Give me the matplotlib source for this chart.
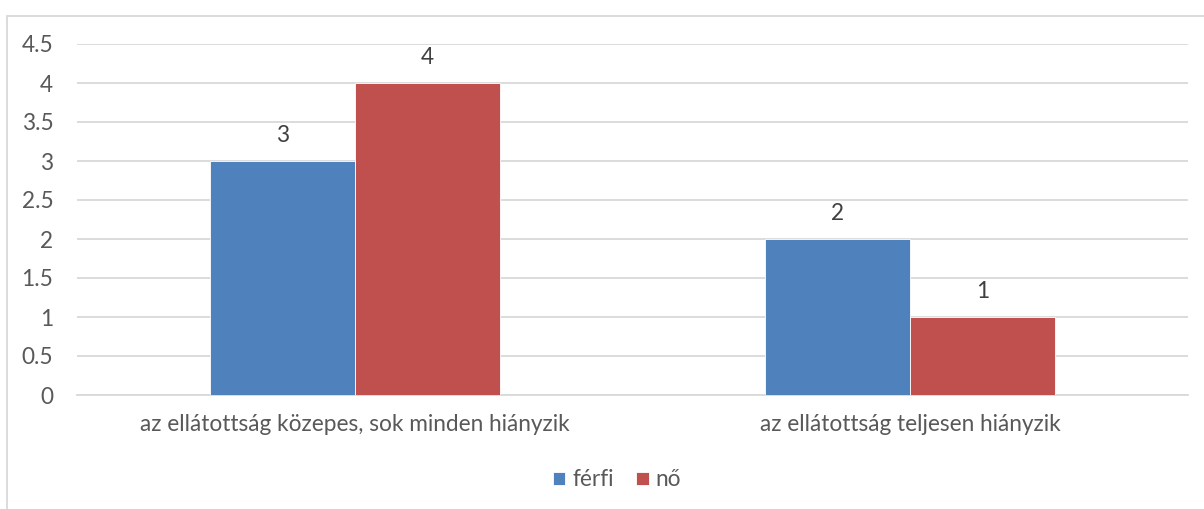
import matplotlib
matplotlib.use("Agg")
import matplotlib.pyplot as plt
from matplotlib.patches import Rectangle
import numpy as np

categories = ["az ellátottság közepes, sok minden hiányzik", "az ellátottság teljesen hiányzik"]
series_names = ["férfi", "nő"]
ferfi = [3, 2]
no = [4, 1]
colors = ["#4F81BD", "#C0504D"]
yticks = [0, 0.5, 1, 1.5, 2, 2.5, 3, 3.5, 4, 4.5]

plt.rcParams["font.family"] = ["Lato", "DejaVu Sans"]
text_color = "#595959"
grid_color = "#D9D9D9"
fs = 16.3

W, H = 1204, 509
fig = plt.figure(figsize=(W / 100, H / 100), dpi=100)

# chart frame (extends past the right and bottom edges)
fig.patches.append(Rectangle((7 / W, -0.1), 1.2, 1 - 16 / H + 0.1, transform=fig.transFigure,
                             fill=False, edgecolor=grid_color, linewidth=1.3, zorder=0))

left, right = 77 / W, 1188 / W
bottom, top = 1 - 395 / H, 1 - 44 / H
ax = fig.add_axes([left, bottom, right - left, top - bottom])

x = np.arange(len(categories))
width = 0.261
b1 = ax.bar(x - width / 2, ferfi, width, color=colors[0], label=series_names[0], zorder=3,
            edgecolor="white", linewidth=0.6)
b2 = ax.bar(x + width / 2, no, width, color=colors[1], label=series_names[1], zorder=3,
            edgecolor="white", linewidth=0.6)

for bars, vals in ((b1, ferfi), (b2, no)):
    for rect, v in zip(bars, vals):
        ax.annotate(str(v), (rect.get_x() + rect.get_width() / 2, v), xytext=(0, 11),
                    textcoords="offset points", ha="center", va="bottom",
                    fontsize=fs, color="#404040")

ax.set_xlim(-0.5, 1.5)
ax.set_ylim(0, 4.5)
ax.set_yticks(yticks)
ax.set_yticklabels([f"{t:g}" for t in yticks])
ax.set_xticks(x)
ax.set_xticklabels(categories)
ax.tick_params(axis="both", length=0, labelsize=fs, colors=text_color)
ax.tick_params(axis="y", pad=17)
ax.tick_params(axis="x", pad=14)
ax.yaxis.grid(True, color=grid_color, linewidth=1.3, zorder=0)
ax.set_axisbelow(True)
for s in ("top", "right", "left"):
    ax.spines[s].set_visible(False)
ax.spines["bottom"].set_color(grid_color)
ax.spines["bottom"].set_linewidth(1.3)

leg = fig.legend(loc="center", bbox_to_anchor=(617 / W, 1 - 480 / H), ncol=2, frameon=False,
                 fontsize=fs, handlelength=0.55, handleheight=0.55, handletextpad=0.3,
                 columnspacing=1.0, labelcolor=text_color)

fig.savefig("out.png", dpi=100, facecolor="white")
